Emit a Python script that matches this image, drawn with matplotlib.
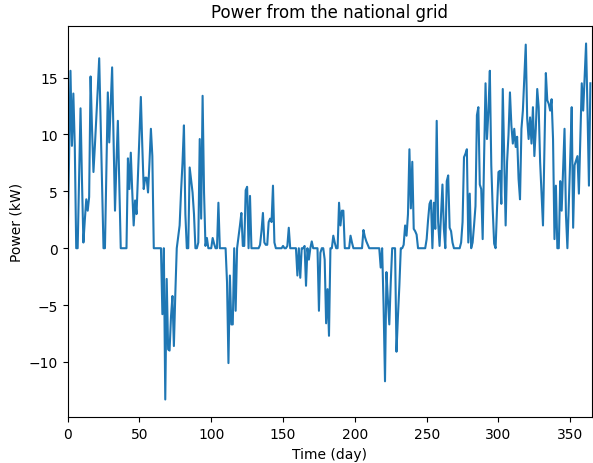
import numpy as np
import matplotlib
matplotlib.use('Agg')
import matplotlib.pyplot as plt

# daily grid power (kW), split by quarter
grid_q1 = [0, 8.0, 15.6, 9.0, 13.6, 9.0, 0, 0, 6.0, 12.3,
           6.0, 0.5, 2.5, 4.3, 3.3, 4.5, 15.1, 10.5, 6.7, 9.0,
           11.5, 14.0, 16.7, 11.0, 5.5, 0, 0, 7.0, 13.7, 9.3,
           12.5, 15.9, 9.5, 3.3, 7.5, 11.2, 5.5, 0, 0, 0,
           0, 0, 7.9, 5.2, 8.4, 5.0, 2.0, 4.2, 3.0, 6.5,
           10.0, 13.3, 9.0, 5.2, 6.2, 6.2, 4.9, 7.5, 10.5, 8.1,
           0, 0, 0, 0, 0, 0, -5.8, 0, -13.3, -2.7,
           -8.9, -9.0, -6.0, -4.2, -8.6, -4.0, 0, 1.0, 2.0, 5.0,
           7.5, 10.8, 3.0, 0, 0, 7.1, 6.0, 4.9, 3.0, 0]
grid_q2 = [0, 0.5, 9.6, 2.6, 13.4, 4.9, 0.2, 0.9, 0, 0,
           0, 0.9, 0.4, 0, 0, 4.0, 0, 0, 0, 0,
           0, -3.0, -10.1, -2.4, -6.7, -6.7, 0, -5.5, 0, 1.0,
           2.0, 3.1, 0.2, 0.2, 5.1, 5.4, 0, 4.6, 0, 0,
           0, 0, 0, 0, 0.3, 1.5, 3.1, 0.5, 0.3, 0.3,
           2.3, 2.6, 2.3, 5.5, 0.5, 0, 0, 0, 0, 0,
           0.2, 0, 0, 0.2, 1.8, 0, 0, 0, 0, 0,
           -2.4, 0, -2.6, 0, 0, 0.2, -3.3, 0, -1.0, 0,
           0.6, 0, 0, 0, 0, -5.5, -0.4, 0, 0, -1.0]
grid_q3 = [-6.6, -3.6, -7.7, 0, 0, 1.1, 0.5, 0, 0, 4.0,
           2.0, 3.3, 3.3, 0, 0, 0, 0, 1.1, 0.5, 0,
           0, 0, 0, 0, 0, 0, 1.6, 1.0, 0.6, 0.3,
           0, 0, 0, 0, 0, 0, 0, 0, -1.7, 0,
           -5.0, -11.7, -2.1, -4.5, -6.7, -3.0, 0, 0, 0, -9.1,
           -6.0, -3.3, 0, 0, 0.3, 2.0, 1.1, 3.0, 8.7, 3.5,
           7.6, 1.7, 1.5, 1.2, 0, 0, 0, 0, 0, 0,
           0.8, 2.5, 3.9, 4.2, 0, 4.0, 1.7, 11.2, 2.3, 0.2,
           3.0, 5.6, 1.7, 0, 5.9, 6.4, 1.8, 1.5, 0.5, 0]
grid_q4 = [0, 0, 0, 0, 0.5, 2.3, 8.0, 8.3, 8.7, 0.5,
           4.8, 0, 0.5, 2.0, 3.7, 11.7, 12.4, 5.6, 5.2, 0.8,
           8.0, 14.5, 9.6, 12.0, 15.6, 7.3, 3.4, 0.4, 0, 3.5,
           6.7, 6.8, 3.9, 14.0, 8.0, 2.0, 7.6, 10.0, 13.7, 10.8,
           9.2, 10.5, 8.9, 9.8, 6.1, 4.3, 10.5, 12.1, 15.0, 17.9,
           11.4, 9.6, 11.5, 9.2, 12.4, 8.1, 10.5, 14.0, 12.4, 7.6,
           4.8, 2.0, 8.7, 15.4, 13.0, 12.7, 12.1, 13.1, 9.6, 0.8,
           5.5, 0, 0, 5.9, 3.3, 7.0, 10.5, 2.9, 0, 4.0,
           8.0, 12.4, 1.8, 7.3, 7.7, 8.1, 4.8, 9.5, 14.5, 12.1,
           15.0, 18.0, 12.1, 5.5, 14.5]

grid = np.array(grid_q1 + grid_q2 + grid_q3 + grid_q4)
days = np.arange(len(grid))

fig = plt.figure(figsize=(5.93, 4.64), dpi=100)
ax = fig.add_axes([0.114, 0.0985, 0.884, 0.844])
ax.plot(days, grid)
ax.set_xlim(0, 365)
ax.set_title('Power from the national grid')
ax.set_xlabel('Time (day)')
ax.set_ylabel('Power (kW)')

plt.savefig('out.png', dpi=100)
print(len(grid))
